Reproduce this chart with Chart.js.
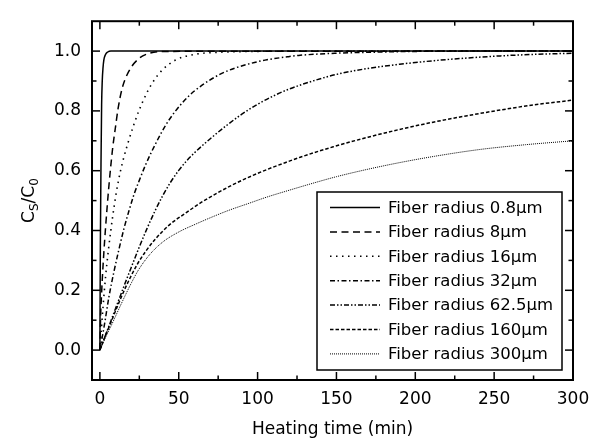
<!DOCTYPE html>
<html><head><meta charset="utf-8">
<script src="https://cdn.jsdelivr.net/npm/chart.js@4.4.0/dist/chart.umd.min.js"></script>
<style>html,body{margin:0;padding:0;background:#fff;}canvas{display:block;}</style>
</head><body>
<canvas id="c" width="601" height="442"></canvas>
<script>
// ---- data ----
const seriesLabels = ['Fiber radius 0.8μm','Fiber radius 8μm','Fiber radius 16μm','Fiber radius 32μm','Fiber radius 62.5μm','Fiber radius 160μm','Fiber radius 300μm'];

const t08 = [0, 0.3, 0.7, 1.1, 1.5, 2, 2.5, 3.5, 5, 7, 300];
const y08 = [0, 0.35, 0.62, 0.82, 0.9, 0.945, 0.97, 0.988, 0.997, 1.0, 1.0];

const t8 = [0, 0.5, 1, 1.5, 2.5, 3.6, 4.7, 5.7, 6.8, 8.2, 10, 11.6, 14.2, 18.4, 24.7, 31, 40, 300];
const y8 = [0, 0.12, 0.18, 0.235, 0.325, 0.41, 0.485, 0.548, 0.61, 0.68, 0.75, 0.81, 0.877, 0.933, 0.975, 0.992, 0.999, 1.0];

const t16 = [0, 1, 2, 3.6, 5.3, 6.8, 8.2, 10.5, 13.1, 15.2, 18.4, 21.6, 24.7, 29, 33.2, 39.6, 48, 60, 75, 100, 130, 300];
const y16 = [0, 0.075, 0.145, 0.245, 0.33, 0.395, 0.45, 0.53, 0.6, 0.645, 0.703, 0.755, 0.80, 0.852, 0.893, 0.937, 0.97, 0.989, 0.996, 0.999, 1.0, 1.0];

const t32 = [0, 3.2, 5.7, 8.9, 12, 15.2, 18.4, 21.6, 24.8, 29, 35.3, 41.7, 48, 56.4, 64, 76, 85, 98, 106, 119, 127, 150, 170, 200, 250, 300];
const y32 = [0, 0.095, 0.177, 0.262, 0.335, 0.405, 0.465, 0.52, 0.565, 0.62, 0.69, 0.752, 0.80, 0.85, 0.883, 0.922, 0.942, 0.962, 0.971, 0.981, 0.986, 0.993, 0.996, 0.999, 1.0, 1.0];

const t62 = [0, 5, 10, 15, 20, 25, 30, 35, 40, 45, 50, 55, 60, 70, 80, 90, 100, 110, 120, 135, 150, 170, 190, 212, 233, 254, 275, 300];
const y62 = [0, 0.07, 0.14, 0.21, 0.278, 0.345, 0.408, 0.466, 0.518, 0.563, 0.601, 0.633, 0.66, 0.707, 0.75, 0.789, 0.822, 0.85, 0.873, 0.9, 0.922, 0.942, 0.956, 0.968, 0.977, 0.984, 0.989, 0.993];

const t160 = [0, 2.5, 6.8, 11, 15.2, 19.5, 23.7, 29, 35.3, 43.9, 54.3, 64, 75, 85, 96, 106, 117, 127, 148, 170, 190, 212, 233, 254, 275, 300];
const y160 = [0, 0.035, 0.09, 0.145, 0.197, 0.245, 0.287, 0.33, 0.372, 0.418, 0.458, 0.493, 0.527, 0.555, 0.582, 0.604, 0.626, 0.645, 0.68, 0.712, 0.738, 0.763, 0.784, 0.803, 0.82, 0.836];

const t300 = [0, 2.5, 7.9, 14.2, 20, 24.7, 32, 40, 50, 61, 72, 82, 94, 106, 119, 135, 150, 170, 190, 212, 241, 270, 300];
const y300 = [0, 0.03, 0.09, 0.162, 0.225, 0.27, 0.322, 0.362, 0.395, 0.422, 0.447, 0.468, 0.49, 0.512, 0.533, 0.558, 0.58, 0.605, 0.627, 0.648, 0.671, 0.687, 0.70];

const xMajorTicks = [0, 50, 100, 150, 200, 250, 300];
const xMinorTicks = [25, 75, 125, 175, 225, 275];
const yMajorTicks = [0.0, 0.2, 0.4, 0.6, 0.8, 1.0];
const yMinorTicks = [0.1, 0.3, 0.5, 0.7, 0.9];
const xTitle = 'Heating time (min)';
const yTitleParts = [['C', false], ['S', true], ['/C', false], ['0', true]];

// ---- styles ----
const seriesDash = [[], [7, 4.5], [1.5, 4.5], [5, 2.5, 1.5, 2.5], [5, 2, 1.5, 2, 1.5, 2], [3.5, 2], [1, 1]];
const seriesWidth = [1.5, 1.5, 1.6, 1.5, 1.5, 1.5, 1.0];
const FONT = 'DejaVu Sans';

const times = [t08, t8, t16, t32, t62, t160, t300];
const vals = [y08, y8, y16, y32, y62, y160, y300];

const datasets = seriesLabels.map((lab, k) => ({
  label: lab,
  data: times[k].map((t, i) => ({x: t, y: vals[k][i]})),
  borderColor: '#000',
  borderWidth: seriesWidth[k],
  borderDash: seriesDash[k],
  pointRadius: 0,
  fill: false,
  cubicInterpolationMode: 'monotone'
}));

const framePlugin = {
  id: 'frameTicksLegend',
  afterDatasetsDraw(chart) {
    const {ctx, chartArea: a, scales: {x, y}} = chart;
    ctx.save();
    ctx.strokeStyle = '#000';
    ctx.setLineDash([]);
    ctx.lineWidth = 1.5;
    const seg = (x1, y1, x2, y2) => { ctx.beginPath(); ctx.moveTo(x1, y1); ctx.lineTo(x2, y2); ctx.stroke(); };
    xMajorTicks.forEach(v => { const p = x.getPixelForValue(v); seg(p, a.bottom, p, a.bottom - 8); seg(p, a.top, p, a.top + 8); });
    xMinorTicks.forEach(v => { const p = x.getPixelForValue(v); seg(p, a.bottom, p, a.bottom - 4.5); seg(p, a.top, p, a.top + 4.5); });
    yMajorTicks.forEach(v => { const p = y.getPixelForValue(v); seg(a.left, p, a.left + 8, p); seg(a.right, p, a.right - 8, p); });
    yMinorTicks.forEach(v => { const p = y.getPixelForValue(v); seg(a.left, p, a.left + 4.5, p); seg(a.right, p, a.right - 4.5, p); });
    ctx.lineWidth = 2;
    ctx.strokeRect(a.left, a.top, a.right - a.left, a.bottom - a.top);

    // legend box
    const bw = 245, bh = 178;
    const bx = a.right - 11 - bw, by = a.bottom - 10 - bh;
    ctx.fillStyle = '#fff';
    ctx.fillRect(bx, by, bw, bh);
    ctx.lineWidth = 1.5;
    ctx.strokeRect(bx, by, bw, bh);
    ctx.font = '16.5px "' + FONT + '"';
    ctx.textBaseline = 'middle';
    ctx.textAlign = 'left';
    ctx.fillStyle = '#000';
    chart.data.datasets.forEach((ds, i) => {
      const ry = by + 15.5 + i * 24.4;
      ctx.lineWidth = ds.borderWidth;
      ctx.setLineDash(ds.borderDash);
      seg(bx + 13, ry, bx + 63, ry);
      ctx.setLineDash([]);
      ctx.fillText(ds.label, bx + 71, ry + 1);
    });

    // y axis title with subscripts
    ctx.translate(34, (a.top + a.bottom) / 2);
    ctx.rotate(-Math.PI / 2);
    const mainF = '17px "' + FONT + '"', subF = '12px "' + FONT + '"';
    let total = 0;
    yTitleParts.forEach(([s, sub]) => { ctx.font = sub ? subF : mainF; total += ctx.measureText(s).width; });
    let cx = -total / 2;
    ctx.textBaseline = 'alphabetic';
    yTitleParts.forEach(([s, sub]) => {
      ctx.font = sub ? subF : mainF;
      ctx.fillText(s, cx, sub ? 4 : 0);
      cx += ctx.measureText(s).width;
    });
    ctx.restore();
  }
};

Chart.defaults.font.family = FONT;
Chart.defaults.font.size = 17;
Chart.defaults.color = '#000';

new Chart(document.getElementById('c'), {
  type: 'line',
  data: {datasets},
  options: {
    responsive: false,
    animation: false,
    layout: {padding: {top: 12, right: 28, left: 0, bottom: 0}},
    plugins: {legend: {display: false}, tooltip: {enabled: false}},
    scales: {
      x: {
        type: 'linear', min: -5, max: 300,
        afterBuildTicks: s => { s.ticks = xMajorTicks.map(v => ({value: v})); },
        afterFit: s => { s.height = 62; },
        grid: {display: false, drawTicks: false},
        border: {display: false},
        ticks: {padding: 9, maxRotation: 0, autoSkip: false, callback: v => String(v)},
        title: {display: true, text: xTitle, padding: {top: 0, bottom: 2}, font: {size: 17}}
      },
      y: {
        type: 'linear', min: -0.1, max: 1.1,
        afterBuildTicks: s => { s.ticks = yMajorTicks.map(v => ({value: v})); },
        afterFit: s => { s.width = 92; },
        grid: {display: false, drawTicks: false},
        border: {display: false},
        ticks: {padding: 11, autoSkip: false, callback: v => Number(v).toFixed(1)}
      }
    }
  },
  plugins: [framePlugin]
});
</script>
</body></html>
